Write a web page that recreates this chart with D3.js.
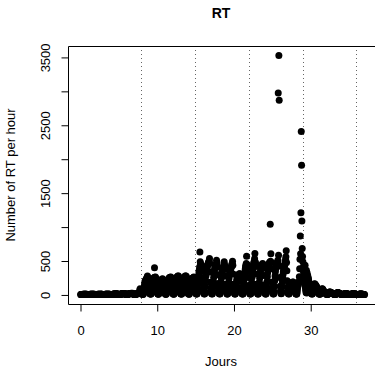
<!DOCTYPE html>
<html><head><meta charset="utf-8">
<script src="https://cdn.jsdelivr.net/npm/d3@7"></script>
<style>
body{margin:0;background:#fff}
svg{display:block}
text{font-family:"Liberation Sans",Arial,Helvetica,sans-serif}
</style>
</head><body>
<svg id="chart" width="375" height="367"></svg>
<script>
const title = "RT";
const xLabel = "Jours";
const yLabel = "Number of RT per hour";
const xTicks = [0, 10, 20, 30];
const yTicks = [0, 500, 1000, 1500, 2000, 2500, 3000, 3500];
const yTickLabels = ["0", "500", "", "1500", "", "2500", "", "3500"];
const weekLines = [8, 15, 22, 29, 36];

// Number of RT per hour, one row per day (24 hourly values; null = no record)
const hourlyRT = [
  [null,null,1,0,0,0,0,0,1,2,1,2,3,2,1,2,3,2,2,1,2,3,1,0],
  [0,0,0,0,0,0,1,1,2,2,3,2,1,2,2,3,2,3,2,1,2,2,1,0],
  [0,0,0,0,0,0,0,1,2,3,2,1,3,2,2,1,2,3,4,2,3,2,1,1],
  [0,0,0,0,0,0,1,2,3,2,3,4,2,3,2,3,4,3,2,4,3,2,1,0],
  [1,0,0,0,0,0,1,2,4,5,6,4,5,6,7,5,6,8,7,9,8,6,4,2],
  [1,1,0,0,0,0,2,3,6,8,9,10,8,11,9,12,10,13,12,11,14,12,8,4],
  [2,1,0,0,0,1,2,4,8,10,12,14,11,13,15,12,16,14,15,13,16,12,9,5],
  [3,1,1,0,0,1,2,5,8,10,12,9,11,10,14,12,15,20,35,60,85,70,50,30],
  [20,10,5,3,2,2,4,20,60,110,150,180,200,210,190,220,230,240,255,270,250,235,200,150],
  [90,50,25,12,6,5,8,30,80,130,170,200,215,230,220,240,250,392,255,245,258,240,210,160],
  [80,40,20,10,5,4,6,25,70,120,160,185,200,210,205,215,220,225,230,220,215,210,180,130],
  [70,35,18,8,4,3,6,28,75,125,165,195,210,225,235,240,250,245,255,250,258,245,210,150],
  [80,45,20,10,5,4,7,30,80,135,175,205,220,235,245,250,262,255,270,265,272,250,220,160],
  [85,45,22,10,6,5,8,32,85,140,180,210,225,240,250,255,265,270,260,272,268,255,225,165],
  [85,45,20,10,5,4,7,30,80,130,170,195,210,220,230,225,235,240,245,250,258,245,220,170],
  [90,50,25,12,6,5,9,35,95,160,220,280,330,360,406,627,480,456,420,400,430,410,350,250],
  [170,90,45,20,10,8,12,45,120,200,270,320,360,390,410,430,445,456,470,480,494,530,456,330],
  [180,95,45,20,10,8,12,45,115,190,250,300,340,370,390,410,420,431,450,505,470,440,400,290],
  [160,85,40,18,9,7,11,42,110,180,240,290,320,350,370,385,395,406,420,480,440,410,370,270],
  [150,80,38,17,8,7,11,40,105,175,235,280,315,340,360,375,390,400,420,440,455,490,430,300],
  [150,80,38,17,8,6,10,35,90,150,200,230,250,265,275,285,290,295,300,306,300,290,260,190],
  [100,55,28,12,6,5,9,38,100,170,230,290,340,380,410,430,456,564,440,420,400,380,340,250],
  [130,70,34,15,8,6,10,40,110,180,250,310,360,400,430,450,470,490,525,604,480,460,410,300],
  [150,80,38,17,8,7,11,42,110,180,240,290,330,360,380,400,415,430,440,455,445,430,390,280],
  [140,75,36,16,8,7,11,42,115,190,260,320,370,400,420,440,455,476,470,1035,490,600,470,380],
  [180,95,45,20,10,8,12,45,120,200,270,330,370,400,420,440,455,470,480,505,2969,579,3520,2862],
  [420,250,120,50,20,12,15,45,115,185,245,295,335,365,390,410,430,456,480,520,554,642,470,350],
  [200,110,55,25,12,8,12,35,70,100,125,140,150,160,165,170,175,180,184,178,170,165,150,120],
  [100,55,28,12,6,5,8,30,70,110,140,160,175,190,260,380,520,863,600,1202,2400,1904,1084,677],
  [560,480,400,330,270,220,180,140,431,100,60,30,355,20,320,200,281,250,240,210,180,150,120,90],
  [110,90,60,35,15,8,6,10,30,60,90,110,130,150,159,150,140,134,130,120,110,100,85,70],
  [60,45,30,15,8,5,4,6,15,30,45,60,70,80,85,75,65,55,50,45,40,37,30,25],
  [20,15,8,4,2,1,1,2,6,12,20,28,32,35,37,34,30,28,25,22,20,18,15,12],
  [10,8,5,3,1,0,0,1,3,6,10,15,20,25,30,28,25,22,18,15,12,10,8,6],
  [5,3,2,1,0,0,0,1,2,4,6,8,10,12,11,12,10,9,8,7,6,5,4,3],
  [3,2,1,0,0,0,0,1,2,3,5,7,9,11,12,10,9,8,7,6,5,4,3,2],
  [2,1,1,0,0,0,0,1,1,2,3,4,5,6,5,4,5,4,3,3,2,2,1,1],
  [1,1,0]
];

const box = {left: 68, top: 46, bottom: 304, right: 392};
const svg = d3.select("#chart");
const x = d3.scaleLinear().domain([-1.565, 40.66]).range([box.left, box.right]);
const y = d3.scaleLinear().domain([-140.8, 3660.8]).range([box.bottom, box.top]);

const points = [];
hourlyRT.forEach((row, d) => row.forEach((v, h) => {
  if (v !== null) points.push({t: d + h / 24, v: v});
}));

svg.append("rect").attr("width", 375).attr("height", 367).attr("fill", "#fff");

// weekly dotted lines
svg.append("g").selectAll("line").data(weekLines).join("line")
  .attr("x1", d => Math.round(x(d)) + 0.5).attr("x2", d => Math.round(x(d)) + 0.5)
  .attr("y1", box.top).attr("y2", box.bottom)
  .attr("stroke", "#666").attr("stroke-width", 1).attr("stroke-dasharray", "1,3");

// points
svg.append("g").selectAll("circle").data(points).join("circle")
  .attr("cx", d => x(d.t)).attr("cy", d => y(d.v)).attr("r", 3.5)
  .attr("fill", "#000");

// box
svg.append("path")
  .attr("d", `M${box.right},${box.top + 0.5}H${box.left + 0.5}V${box.bottom + 0.5}H${box.right}`)
  .attr("fill", "none").attr("stroke", "#000").attr("stroke-width", 1);

// x axis
const gx = svg.append("g").attr("transform", `translate(0.5,${box.bottom + 0.5})`)
  .call(d3.axisBottom(x).tickValues(xTicks).tickSize(7).tickFormat(d3.format("d")));
gx.select(".domain").remove();
gx.selectAll("line").attr("stroke", "#000");
gx.selectAll("text").attr("y", 30.5).attr("dy", 0).attr("font-size", 13).attr("fill", "#000")
  .style("font-family", '"Liberation Sans",Arial,sans-serif');

// y axis
const gy = svg.append("g").attr("transform", `translate(${box.left + 0.5},0.5)`)
  .call(d3.axisLeft(y).tickValues(yTicks).tickSize(7).tickFormat((d, i) => yTickLabels[i]));
gy.select(".domain").remove();
gy.selectAll("line").attr("stroke", "#000");
gy.selectAll("text")
  .attr("x", 0).attr("dy", 0).attr("text-anchor", "middle")
  .attr("transform", "translate(-18.5,0) rotate(-90)")
  .attr("font-size", 13).attr("fill", "#000")
  .style("font-family", '"Liberation Sans",Arial,sans-serif');

// title and labels
svg.append("text").attr("x", 221).attr("y", 18.3).attr("text-anchor", "middle")
  .attr("font-size", 14).attr("font-weight", "bold").text(title);
svg.append("text").attr("x", 221).attr("y", 365.5).attr("text-anchor", "middle")
  .attr("font-size", 13).text(xLabel);
svg.append("text").attr("transform", `translate(15,175) rotate(-90)`).attr("text-anchor", "middle")
  .attr("font-size", 13).text(yLabel);
</script>
</body></html>
